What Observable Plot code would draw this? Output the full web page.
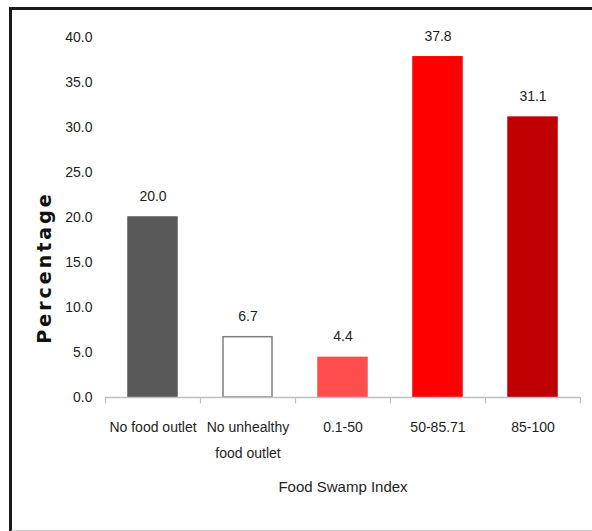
<!DOCTYPE html>
<html>
<head>
<meta charset="utf-8">
<script src="https://cdn.jsdelivr.net/npm/d3@7"></script>
<script src="https://cdn.jsdelivr.net/npm/@observablehq/plot@0.6"></script>
<style>
  html, body { margin: 0; padding: 0; background: #fff; overflow: hidden; }
  #wrap { position: relative; width: 592px; height: 531px; }
  #wrap svg { position: absolute; left: 0; top: 0; }
  #frame { position: absolute; left: 9px; top: 7px; width: 640px; height: 520px;
           border-left: 3px solid #1a1a1a; border-top: 3px solid #1a1a1a;
           border-bottom: 2px solid #d0d0d0; pointer-events: none; }
</style>
</head>
<body>
<div id="wrap"><div id="frame"></div></div>
<script>
const categories = ["No food outlet", "No unhealthy\nfood outlet", "0.1-50", "50-85.71", "85-100"];
const values = [20.0, 6.7, 4.4, 37.8, 31.1];
const fills = ["#595959", "#ffffff", "#ff4d4d", "#ff0000", "#c00000"];
const strokes = ["#595959", "#7f7f7f", "#ff4d4d", "#ff0000", "#c00000"];
const yTicks = [0, 5, 10, 15, 20, 25, 30, 35, 40];

const data = categories.map((c, i) => ({cat: c, value: values[i], fill: fills[i], stroke: strokes[i]}));
const font = "'Liberation Sans', Arial, sans-serif";
const step = 95;

const chart = Plot.plot({
  width: 592,
  height: 531,
  marginLeft: 105,
  marginRight: 12,
  marginTop: 37,
  marginBottom: 134,
  style: {fontFamily: font, fontSize: "14px", color: "#1e1e1e", background: "transparent"},
  x: {domain: categories, paddingInner: 0.48, paddingOuter: 0.24},
  y: {domain: [0, 40]},
  marks: [
    Plot.axisY({ticks: yTicks, tickFormat: d => d.toFixed(1), tickSize: 0, tickPadding: 13, label: null, fill: "#1e1e1e"}),
    Plot.axisX({tickSize: 0, tickPadding: 16, label: null, lineHeight: 1.85, fill: "#1e1e1e"}),
    Plot.barY(data, {x: "cat", y: "value", fill: d => d.fill, stroke: d => d.stroke, strokeWidth: 1.5, inset: 0}),
    Plot.ruleY([0], {stroke: "#bfbfbf", strokeWidth: 1.5}),
    Plot.ruleX(categories, {x: d => d, dx: -step / 2, y1: 0, y2: -0.7, stroke: "#bfbfbf", strokeWidth: 1.2}),
    Plot.ruleX(categories.slice(-1), {x: d => d, dx: step / 2, y1: 0, y2: -0.7, stroke: "#bfbfbf", strokeWidth: 1.2}),
    Plot.text(data, {x: "cat", y: "value", text: d => d.value.toFixed(1), dy: -21, fill: "#1e1e1e", fontSize: 14}),
    Plot.text(["Food Swamp Index"], {frameAnchor: "bottom", dy: 94, fill: "#1e1e1e", fontSize: 15}),
    Plot.text(["Percentage"], {frameAnchor: "left", textAnchor: "middle", rotate: -90, dx: -61, dy: 50, fill: "#111",
      fontSize: 19, fontWeight: "bold", fontFamily: "'DejaVu Sans', Verdana, sans-serif"})
  ]
});
d3.select(chart).selectAll("text").filter(function() { return this.textContent === "Percentage"; })
  .style("letter-spacing", "3px");
document.getElementById("wrap").prepend(chart);
</script>
</body>
</html>
